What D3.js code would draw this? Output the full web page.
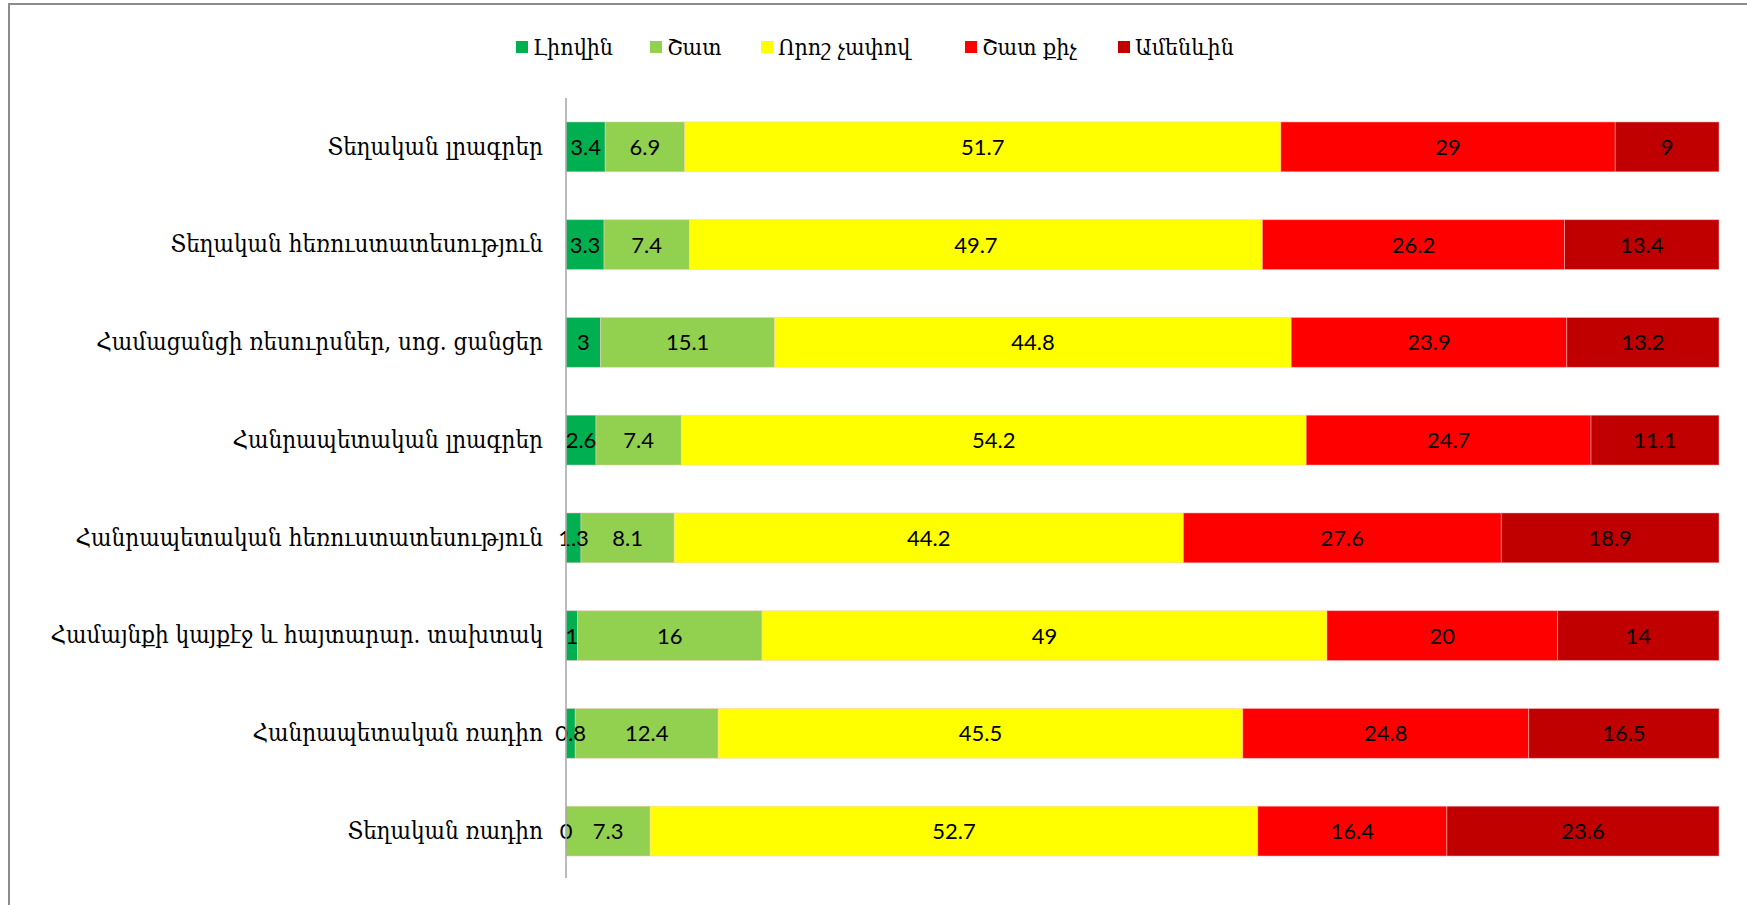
<!DOCTYPE html>
<html>
<head>
<meta charset="utf-8">
<script src="https://cdn.jsdelivr.net/npm/d3@7"></script>
<style>
  body { margin: 0; background: #fff; }
  .cat { font-family: "DejaVu Serif Condensed", "DejaVu Serif", serif; font-size: 24px; fill: #000; }
  .val { font-family: Lato, "Open Sans", sans-serif; font-size: 22px; fill: #000; }
  .leg { font-family: "DejaVu Serif Condensed", "DejaVu Serif", serif; font-size: 23px; fill: #000; }
</style>
</head>
<body>
<script>
// categories, top to bottom
var categories = [
  "Տեղական լրագրեր",
  "Տեղական հեռուստատեսություն",
  "Համացանցի ռեսուրսներ, սոց. ցանցեր",
  "Հանրապետական լրագրեր",
  "Հանրապետական հեռուստատեսություն",
  "Համայնքի կայքէջ և հայտարար. տախտակ",
  "Հանրապետական ռադիո",
  "Տեղական ռադիո"
];

// series names (legend order)
var seriesNames = ["Լիովին", "Շատ", "Որոշ չափով", "Շատ քիչ", "Ամենևին"];
var seriesColors = ["#00b050", "#92d050", "#ffff00", "#ff0000", "#c00000"];

// series values, one per category
var fully    = [3.4, 3.3, 3,    2.6,  1.3,  1,  0.8,  0];
var much     = [6.9, 7.4, 15.1, 7.4,  8.1,  16, 12.4, 7.3];
var somewhat = [51.7, 49.7, 44.8, 54.2, 44.2, 49, 45.5, 52.7];
var little   = [29,  26.2, 23.9, 24.7, 27.6, 20, 24.8, 16.4];
var notAtAll = [9,   13.4, 13.2, 11.1, 18.9, 14, 16.5, 23.6];

var seriesValues = [fully, much, somewhat, little, notAtAll];

var W = 1747, H = 905;
var margin = {top: 98, right: 28, bottom: 25, left: 566};
var width = W - margin.left - margin.right,
    height = H - margin.top - margin.bottom;

var svg = d3.select("body").append("svg")
  .attr("width", W)
  .attr("height", H);

// chart frame (only top and left edges are in view)
svg.append("rect")
  .attr("x", 9).attr("y", 4)
  .attr("width", W + 20).attr("height", H + 20)
  .attr("fill", "none")
  .attr("stroke", "#8c8c8c")
  .attr("stroke-width", 2);

// rows for the stack
var rows = categories.map(function(c, i) {
  var r = {cat: c};
  seriesNames.forEach(function(s, j) { r[s] = seriesValues[j][i]; });
  return r;
});

var stack = d3.stack().keys(seriesNames).offset(d3.stackOffsetExpand);
var layers = stack(rows);

var xScale = d3.scaleLinear().domain([0, 1]).range([0, width]);
var yScale = d3.scaleBand().domain(categories).range([0, height]).paddingInner(0.49).paddingOuter(0.245);
var color = d3.scaleOrdinal().domain(seriesNames).range(seriesColors);

var g = svg.append("g")
  .attr("transform", "translate(" + margin.left + "," + margin.top + ")");

var layer = g.selectAll("g.layer")
  .data(layers).enter()
  .append("g")
  .attr("class", "layer")
  .attr("fill", function(d) { return color(d.key); });

layer.selectAll("rect")
  .data(function(d) { return d; })
  .enter()
  .append("rect")
  .attr("x", function(d) { return xScale(d[0]); })
  .attr("y", function(d) { return yScale(d.data.cat); })
  .attr("width", function(d) { return xScale(d[1]) - xScale(d[0]); })
  .attr("height", yScale.bandwidth())
  .attr("stroke", "rgba(255,200,200,0.6)")
  .attr("stroke-width", 0.8);

// value labels centred in each segment
layers.forEach(function(L) {
  g.selectAll(null)
    .data(L).enter()
    .append("text")
    .attr("class", "val")
    .attr("x", function(d) { return (xScale(d[0]) + xScale(d[1])) / 2; })
    .attr("y", function(d) { return yScale(d.data.cat) + yScale.bandwidth() / 2; })
    .attr("dy", "0.36em")
    .attr("text-anchor", "middle")
    .text(function(d) { return d.data[L.key]; });
});

// y axis: line + category labels
var yAxis = d3.axisLeft(yScale).tickSize(0).tickPadding(23);
var ax = g.append("g").call(yAxis);
ax.select(".domain").attr("stroke", "#a6a6a6").attr("stroke-width", 1.5)
  .attr("d", "M0,0V" + (height - 2));
ax.selectAll("text").attr("class", "cat").attr("font-size", null).attr("font-family", null);

// legend
var legX = [516, 650, 761, 965, 1118];
var leg = svg.selectAll("g.leg")
  .data(seriesNames).enter()
  .append("g")
  .attr("transform", function(d, i) { return "translate(" + legX[i] + ",47)"; });
leg.append("rect")
  .attr("x", 0).attr("y", -6)
  .attr("width", 12).attr("height", 12)
  .attr("fill", function(d) { return color(d); });
leg.append("text")
  .attr("class", "leg")
  .attr("x", 17).attr("dy", "0.35em")
  .text(function(d) { return d; });
</script>
</body>
</html>
